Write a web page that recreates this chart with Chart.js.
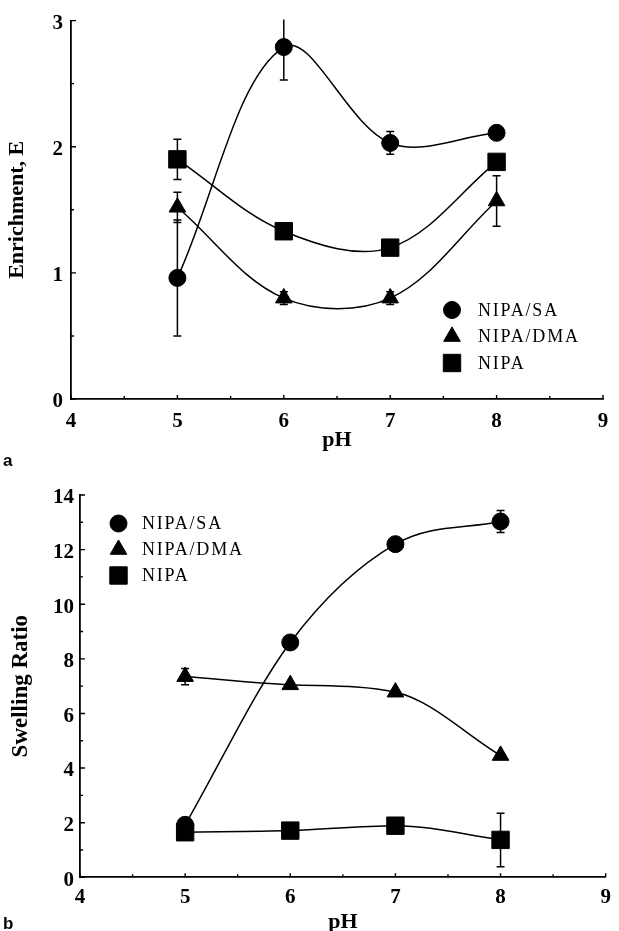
<!DOCTYPE html>
<html>
<head>
<meta charset="utf-8">
<script src="https://cdn.jsdelivr.net/npm/chart.js@4.4.0/dist/chart.umd.min.js"></script>
<style>
  html, body { margin: 0; padding: 0; background: #fff; width: 619px; height: 931px; overflow: hidden; position: relative; }
  .panel { position: absolute; left: 0; width: 619px; }
  #wrapA { top: 0; height: 465px; }
  #wrapB { top: 465px; height: 480px; }
  .tag { position: absolute; left: 3px; font: bold 17px 'Liberation Sans', Arial, sans-serif; color: #000; line-height: 20px; }
</style>
</head>
<body>
<div class="panel" id="wrapA"><canvas id="chartA"></canvas></div>
<div class="panel" id="wrapB"><canvas id="chartB"></canvas></div>
<div class="tag" style="top:451px">a</div>
<div class="tag" style="top:914px">b</div>

<script>
// pH values at which each gel was measured
const phValues = [5, 6, 7, 8];
const seriesNames = ['NIPA/SA', 'NIPA/DMA', 'NIPA'];

// Panel a: enrichment E (mean and half-width of error bar)
const enrichSA = [0.96, 2.79, 2.03, 2.11];
const enrichSAErr = [0.46, 0.26, 0.09, null];
const enrichDMA = [1.52, 0.80, 0.80, 1.57];
const enrichDMAErr = [0.12, 0.05, 0.05, 0.20];
const enrichNIPA = [1.90, 1.33, 1.20, 1.88];
const enrichNIPAErr = [0.16, null, null, null];

// Panel b: swelling ratio
const swellSA = [1.92, 8.60, 12.20, 13.03];
const swellSAErr = [null, null, null, 0.40];
const swellDMA = [7.35, 7.05, 6.78, 4.46];
const swellDMAErr = [0.30, null, null, null];
const swellNIPA = [1.65, 1.71, 1.89, 1.37];
const swellNIPAErr = [null, null, null, 0.98];

// Axis ranges and labelled tick values
const phAxis = { min: 4, max: 9, step: 0.5, labelled: [4, 5, 6, 7, 8, 9] };
const enrichAxis = { min: 0, max: 3, step: 0.5, labelled: [0, 1, 2, 3] };
const swellAxis = { min: 0, max: 14, step: 1, labelled: [0, 2, 4, 6, 8, 10, 12, 14] };

const markerStyles = ['circle', 'triangle', 'rect'];
const markerRadius = { circle: 8.5, triangle: 9.6, rect: 12.3 };

Chart.defaults.font.family = "'Liberation Serif', 'Times New Roman', serif";
Chart.defaults.color = '#000';

function toPoints(values) {
  return values.map((v, i) => ({ x: phValues[i], y: v }));
}

function makeDataset(name, values, errors, style, curve) {
  return {
    label: name,
    data: toPoints(values),
    errors: errors,
    showLine: true,
    tension: curve.tension,
    cubicInterpolationMode: curve.mode,
    borderColor: '#000',
    borderWidth: 1.5,
    pointStyle: style,
    pointRadius: markerRadius[style],
    pointHoverRadius: markerRadius[style],
    pointBackgroundColor: '#000',
    pointBorderColor: '#000',
    pointBorderWidth: 1,
    fill: false
  };
}

// Vertical error bars with short caps, clipped to the plot area
const errorBars = {
  id: 'errorBars',
  beforeDatasetsDraw(chart) {
    const { ctx, chartArea, scales } = chart;
    ctx.save();
    ctx.beginPath();
    ctx.rect(chartArea.left, chartArea.top - 1, chartArea.right - chartArea.left, chartArea.bottom - chartArea.top + 1);
    ctx.clip();
    ctx.strokeStyle = '#000';
    ctx.lineWidth = 1.5;
    chart.data.datasets.forEach(ds => {
      if (!ds.errors) return;
      ds.data.forEach((pt, j) => {
        const e = ds.errors[j];
        if (e == null) return;
        const x = scales.x.getPixelForValue(pt.x);
        const yHi = scales.y.getPixelForValue(pt.y + e);
        const yLo = scales.y.getPixelForValue(pt.y - e);
        ctx.beginPath();
        ctx.moveTo(x, yHi); ctx.lineTo(x, yLo);
        const cap = 4;
        [yHi, yLo].forEach(yy => {
          if (yy >= chartArea.top && yy <= chartArea.bottom) {
            ctx.moveTo(x - cap, yy); ctx.lineTo(x + cap, yy);
          }
        });
        ctx.stroke();
      });
    });
    ctx.restore();
  }
};

// Short tick marks pointing into the plot from both axes
const inwardTicks = {
  id: 'inwardTicks',
  afterDraw(chart) {
    const { ctx, chartArea, scales } = chart;
    ctx.save();
    ctx.strokeStyle = '#000';
    ctx.lineWidth = 1.4;
    ctx.beginPath();
    scales.x.ticks.forEach(t => {
      const px = scales.x.getPixelForValue(t.value);
      const len = t.label !== '' ? 4 : 3;
      ctx.moveTo(px, chartArea.bottom); ctx.lineTo(px, chartArea.bottom - len);
    });
    scales.y.ticks.forEach(t => {
      const py = scales.y.getPixelForValue(t.value);
      const len = t.label !== '' ? 5 : 3;
      ctx.moveTo(chartArea.left, py); ctx.lineTo(chartArea.left + len, py);
    });
    ctx.stroke();
    ctx.restore();
  }
};

// Marker legend placed inside the plot area
const innerLegend = {
  id: 'innerLegend',
  afterDraw(chart, args, opts) {
    const { ctx } = chart;
    ctx.save();
    ctx.fillStyle = '#000';
    ctx.strokeStyle = '#000';
    ctx.font = '18px "Liberation Serif", "Times New Roman", serif';
    ctx.textBaseline = 'middle';
    ctx.textAlign = 'left';
    if ('letterSpacing' in ctx) ctx.letterSpacing = '1.8px';
    chart.data.datasets.forEach((ds, i) => {
      const y = opts.y + i * opts.gap;
      Chart.helpers.drawPoint(ctx, {
        pointStyle: ds.pointStyle, radius: ds.pointRadius, rotation: 0, borderWidth: 1
      }, opts.markerX, y);
      ctx.fillText(ds.label, opts.textX, y + 1);
    });
    ctx.restore();
  }
};

function tickFilter(axis) {
  return v => (axis.labelled.some(l => Math.abs(l - v) < 1e-9) ? String(Math.round(v)) : '');
}

function buildChart(canvasId, cfg) {
  return new Chart(document.getElementById(canvasId), {
    type: 'scatter',
    data: {
      datasets: [
        makeDataset(seriesNames[0], cfg.sa, cfg.saErr, markerStyles[0], cfg.curve),
        makeDataset(seriesNames[1], cfg.dma, cfg.dmaErr, markerStyles[1], cfg.curve),
        makeDataset(seriesNames[2], cfg.nipa, cfg.nipaErr, markerStyles[2], cfg.curve)
      ]
    },
    options: {
      responsive: true,
      maintainAspectRatio: false,
      animation: false,
      events: [],
      layout: { padding: cfg.padding },
      plugins: {
        legend: { display: false },
        tooltip: { enabled: false },
        innerLegend: cfg.legend
      },
      scales: {
        x: {
          type: 'linear',
          min: phAxis.min, max: phAxis.max,
          afterFit: s => { s.height = cfg.xHeight; },
          grid: { display: false, drawTicks: false },
          border: { display: true, color: '#000', width: 1.8 },
          ticks: {
            stepSize: phAxis.step, autoSkip: false, maxRotation: 0,
            padding: cfg.xTickPad,
            font: { size: 21, weight: 'bold' },
            callback: tickFilter(phAxis)
          },
          title: {
            display: true, text: 'pH',
            font: { size: 22, weight: 'bold' },
            padding: { top: 0, bottom: cfg.xTitlePad }
          }
        },
        y: {
          type: 'linear',
          min: cfg.yAxis.min, max: cfg.yAxis.max,
          afterFit: s => { s.width = cfg.yWidth; },
          grid: { display: false, drawTicks: false },
          border: { display: true, color: '#000', width: 1.8 },
          ticks: {
            stepSize: cfg.yAxis.step, autoSkip: false,
            padding: cfg.yTickPad,
            labelOffset: 3,
            font: { size: 21, weight: 'bold' },
            callback: tickFilter(cfg.yAxis)
          },
          title: {
            display: true, text: cfg.yTitle,
            font: { size: cfg.yTitleSize, weight: 'bold' },
            padding: { top: cfg.yTitlePad, bottom: 0 }
          }
        }
      }
    },
    plugins: [errorBars, inwardTicks, innerLegend]
  });
}

buildChart('chartA', {
  sa: enrichSA, saErr: enrichSAErr,
  dma: enrichDMA, dmaErr: enrichDMAErr,
  nipa: enrichNIPA, nipaErr: enrichNIPAErr,
  yAxis: enrichAxis,
  yTitle: 'Enrichment, E', yTitleSize: 22,
  curve: { tension: 0.35, mode: 'default' },
  padding: { top: 18, right: 16, bottom: 0, left: 0 },
  xHeight: 66, yWidth: 71,
  xTickPad: 10, xTitlePad: 11,
  yTickPad: 8, yTitlePad: 4,
  legend: { markerX: 452, textX: 478, y: 310, gap: 26.5 }
});

buildChart('chartB', {
  sa: swellSA, saErr: swellSAErr,
  dma: swellDMA, dmaErr: swellDMAErr,
  nipa: swellNIPA, nipaErr: swellNIPAErr,
  yAxis: swellAxis,
  yTitle: 'Swelling Ratio', yTitleSize: 23,
  curve: { tension: 0.4, mode: 'monotone' },
  padding: { top: 30, right: 6, bottom: 0, left: 0 },
  xHeight: 67.7, yWidth: 80,
  xTickPad: 8, xTitlePad: 9,
  yTickPad: 6, yTitlePad: 7,
  legend: { markerX: 118.5, textX: 142, y: 58.5, gap: 26 }
});
</script>
</body>
</html>
